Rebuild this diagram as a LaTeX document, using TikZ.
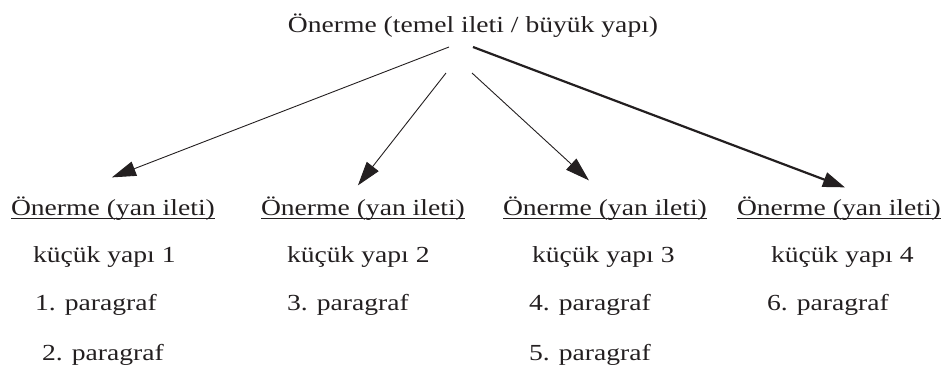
\documentclass[tikz,border=0pt]{standalone}
\usepackage{fontspec}
\setmainfont{Liberation Serif}[FakeStretch=1.2]
\usetikzlibrary{arrows.meta,calc}
\definecolor{ink}{HTML}{231F20}
\begin{document}
\begin{tikzpicture}[x=1pt,y=-1pt,
  txt/.style={inner sep=0pt,outer sep=0pt,anchor=base west,text=ink,font=\fontsize{23}{28}\selectfont},
  head/.style={txt},
  uline/.style={draw=ink,line width=1.5pt},
  thinarrow/.style={draw=ink,line width=0.9pt,-{Triangle[length=24pt,width=15pt]}},
  thickarrow/.style={draw=ink,line width=2.2pt,-{Triangle[length=22pt,width=15pt]}}]
  \useasboundingbox (0,0) rectangle (947,368);

  % main proposition
  \node[txt,anchor=base] (top) at (473,32) {Önerme (temel ileti / büyük yapı)};

  % sub-propositions
  \node[head] (h1) at (11,215)  {Önerme (yan ileti)};
  \node[head] (h2) at (261,215) {Önerme (yan ileti)};
  \node[head] (h3) at (503,215) {Önerme (yan ileti)};
  \node[head] (h4) at (737,215) {Önerme (yan ileti)};
  \foreach \h in {h1,h2,h3,h4}
    \draw[uline] ([yshift=-3.5pt]\h.base west) -- ([yshift=-3.5pt]\h.base east);

  % small structures
  \node[txt] (k1) at (33,262)  {küçük yapı 1};
  \node[txt] (k2) at (287,262) {küçük yapı 2};
  \node[txt] (k3) at (532,262) {küçük yapı 3};
  \node[txt] (k4) at (771,262) {küçük yapı 4};

  % paragraphs
  \node[txt] (p1) at (35,310)  {1. paragraf};
  \node[txt] (p2) at (42,360)  {2. paragraf};
  \node[txt] (p3) at (287,310) {3. paragraf};
  \node[txt] (p4) at (529,310) {4. paragraf};
  \node[txt] (p5) at (529,360) {5. paragraf};
  \node[txt] (p6) at (767,310) {6. paragraf};

  % arrow start points below the main proposition
  \coordinate (s1) at ($(top.base)+(-24,15)$);
  \coordinate (s2) at ($(top.base)+(-27,41)$);
  \coordinate (s3) at ($(top.base)+(-1,41)$);
  \coordinate (s4) at ($(top.base)+(0,15)$);

  \draw[thinarrow]  (s1) -- ($(h1.north)+(-1,-19)$);
  \draw[thinarrow]  (s2) -- ($(h2.north)+(-5,-11)$);
  \draw[thinarrow]  (s3) -- ($(h3.north)+(-16,-16)$);
  \draw[thickarrow] (s4) -- ($(h4.north)+(6,-9)$);
\end{tikzpicture}
\end{document}
